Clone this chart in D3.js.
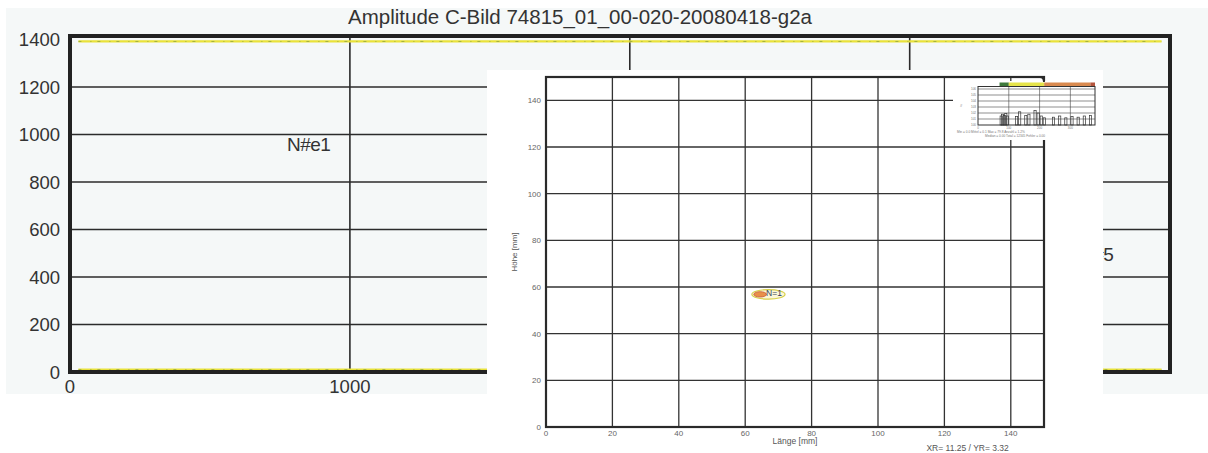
<!DOCTYPE html>
<html>
<head>
<meta charset="utf-8">
<script src="https://cdn.jsdelivr.net/npm/d3@7"></script>
<style>
  body { margin: 0; background: #fff; }
  svg { display: block; font-family: "Liberation Sans", Arial, sans-serif; }
</style>
</head>
<body>
<svg id="chart" width="1208" height="453"></svg>
<script>
// ---- outer C-scan (scanned page) ----
const outerTitle = 'Amplitude C-Bild 74815_01_00-020-20080418-g2a';
const outerXTicks = [0, 1000, 2000, 3000];
const outerYTicks = [0, 200, 400, 600, 800, 1000, 1200, 1400];
const outerXMax = 3930;
const outerYMax = 1415;
// edge echoes along top and bottom border
const edgeTopX = [30, 3900];
const edgeTopY = [1392, 1392];
const edgeBottomX = [30, 3900];
const edgeBottomY = [10, 10];
// indication labels (overprinted N#1 / Ne1 and N#5, mostly hidden)
const outerMarkLabels = ['N#e1', 'N#5'];
const outerMarkX = [775, 3608];
const outerMarkY = [955, 492];

// ---- inner C-scan (pasted printout) ----
const innerTicks = [0, 20, 40, 60, 80, 100, 120, 140];
const innerMax = 150;
const defectX = [62, 72];     // mm
const defectY = [54.8, 58.9]; // mm
const defectCoreX = [62.6, 66.4];
const defectCoreY = [55.7, 58.0];
const defectLabel = 'N=1';
const footnote = 'XR= 11.25 / YR= 3.32';

// ---- tiny histogram inset ----
const insetXTicks = [0, 100, 200, 300];
const insetYTicks = [0, 1, 2, 3, 4, 5, 6];
const insetBandFrom = [70, 100, 215, 365];
const insetBandTo = [100, 215, 365, 380];
const insetBandColor = ['#3f7a3c', '#e6e44a', '#d98a4f', '#b4553d'];
const insetBarX = [75, 80, 85, 90, 95, 125, 135, 155, 165, 185, 195, 205, 215, 245, 265, 285, 305, 325, 345, 365];
const insetBarH = [1.5, 1.8, 1.6, 1.9, 1.5, 1.4, 2.2, 1.6, 1.8, 2.4, 2.0, 1.5, 1.2, 1.3, 1.5, 1.2, 1.4, 1.3, 1.5, 1.6];

const svg = d3.select('#chart');

// scanned page background
svg.append('rect').attr('x', 6).attr('y', 8).attr('width', 1202).attr('height', 386).attr('fill', '#f5f8f8');

// ---------- outer chart ----------
var ox = d3.scaleLinear().domain([0, outerXMax]).range([70, 1170]);
var oy = d3.scaleLinear().domain([0, outerYMax]).range([372, 36]);

svg.append('text')
    .attr('x', 580).attr('y', 24)
    .attr('text-anchor', 'middle')
    .attr('font-size', 20.5)
    .attr('fill', '#333')
    .text(outerTitle);

const og = svg.append('g');
// grid
og.selectAll('.hg').data(outerYTicks.filter(d => d > 0 && d < 1400)).enter().append('line')
    .attr('x1', ox(0)).attr('x2', ox(outerXMax))
    .attr('y1', d => oy(d)).attr('y2', d => oy(d))
    .attr('stroke', '#2b2b2b').attr('stroke-width', 1.6);
og.selectAll('.vg').data(outerXTicks.filter(d => d > 0)).enter().append('line')
    .attr('x1', d => ox(d)).attr('x2', d => ox(d))
    .attr('y1', oy(0)).attr('y2', oy(outerYMax))
    .attr('stroke', '#2b2b2b').attr('stroke-width', 1.6);

// edge echoes
const edgeLine = d3.line().x(d => ox(d[0])).y(d => oy(d[1]));
[d3.zip(edgeTopX, edgeTopY), d3.zip(edgeBottomX, edgeBottomY)].forEach(pts => {
    og.append('path').attr('d', edgeLine(pts)).attr('fill', 'none')
        .attr('stroke', '#e9e23a').attr('stroke-width', 2.2);
    og.append('path').attr('d', edgeLine(pts)).attr('fill', 'none')
        .attr('stroke', '#6c8a3a').attr('stroke-width', 0.8)
        .attr('stroke-dasharray', '3 9 1 6').attr('opacity', 0.7);
});

// frame
og.append('rect')
    .attr('x', ox(0)).attr('y', oy(outerYMax))
    .attr('width', ox(outerXMax) - ox(0)).attr('height', oy(0) - oy(outerYMax))
    .attr('fill', 'none').attr('stroke', '#222').attr('stroke-width', 4);

// tick labels
og.selectAll('.yl').data(outerYTicks).enter().append('text')
    .attr('x', 60).attr('y', d => oy(d) + 6.5)
    .attr('text-anchor', 'end').attr('font-size', 18.5).attr('fill', '#333')
    .text(d => d);
og.selectAll('.xl').data(outerXTicks).enter().append('text')
    .attr('x', d => ox(d)).attr('y', 393)
    .attr('text-anchor', 'middle').attr('font-size', 18.5).attr('fill', '#333')
    .text(d => d);

// indication labels
og.selectAll('.ml').data(outerMarkLabels).enter().append('text')
    .attr('x', (d, i) => ox(outerMarkX[i])).attr('y', (d, i) => oy(outerMarkY[i]) + 6)
    .attr('font-size', 19).attr('fill', '#333').attr('letter-spacing', -0.5)
    .text(d => d);

// ---------- pasted printout ----------
svg.append('rect').attr('x', 487).attr('y', 70).attr('width', 616).attr('height', 383).attr('fill', '#fff');

var ix = d3.scaleLinear().domain([0, innerMax]).range([546, 1044]);
var iy = d3.scaleLinear().domain([0, innerMax]).range([427, 77]);
const ig = svg.append('g');

ig.selectAll('.ihg').data(innerTicks.filter(d => d > 0)).enter().append('line')
    .attr('x1', ix(0)).attr('x2', ix(innerMax))
    .attr('y1', d => iy(d)).attr('y2', d => iy(d))
    .attr('stroke', '#333').attr('stroke-width', 1.3);
ig.selectAll('.ivg').data(innerTicks.filter(d => d > 0)).enter().append('line')
    .attr('x1', d => ix(d)).attr('x2', d => ix(d))
    .attr('y1', iy(0)).attr('y2', iy(innerMax))
    .attr('stroke', '#333').attr('stroke-width', 1.3);
ig.append('rect')
    .attr('x', ix(0)).attr('y', iy(innerMax))
    .attr('width', ix(innerMax) - ix(0)).attr('height', iy(0) - iy(innerMax))
    .attr('fill', 'none').attr('stroke', '#2a2a2a').attr('stroke-width', 2.2);

ig.selectAll('.iyl').data(innerTicks).enter().append('text')
    .attr('x', 541).attr('y', d => iy(d) + 3)
    .attr('text-anchor', 'end').attr('font-size', 8).attr('fill', '#666')
    .text(d => d);
ig.selectAll('.ixl').data(innerTicks).enter().append('text')
    .attr('x', d => ix(d)).attr('y', 436)
    .attr('text-anchor', 'middle').attr('font-size', 8).attr('fill', '#666')
    .text(d => d);
ig.append('text')
    .attr('transform', 'translate(517,' + iy(75) + ') rotate(-90)')
    .attr('text-anchor', 'middle').attr('font-size', 8).attr('fill', '#555')
    .text('Höhe [mm]');
ig.append('text')
    .attr('x', ix(75)).attr('y', 444)
    .attr('text-anchor', 'middle').attr('font-size', 8.5).attr('fill', '#555')
    .text('Länge [mm]');
ig.append('text')
    .attr('x', ix(127)).attr('y', 451)
    .attr('text-anchor', 'middle').attr('font-size', 8.5).attr('fill', '#555')
    .text(footnote);

// defect indication
ig.append('ellipse')
    .attr('cx', ix((defectX[0] + defectX[1]) / 2)).attr('cy', iy((defectY[0] + defectY[1]) / 2))
    .attr('rx', (ix(defectX[1]) - ix(defectX[0])) / 2).attr('ry', (iy(defectY[0]) - iy(defectY[1])) / 2)
    .attr('fill', '#fbf6d8').attr('stroke', '#d7cf4a').attr('stroke-width', 1.2);
ig.append('ellipse')
    .attr('cx', ix((defectCoreX[0] + defectCoreX[1]) / 2)).attr('cy', iy((defectCoreY[0] + defectCoreY[1]) / 2))
    .attr('rx', (ix(defectCoreX[1]) - ix(defectCoreX[0])) / 2).attr('ry', (iy(defectCoreY[0]) - iy(defectCoreY[1])) / 2)
    .attr('fill', '#e8904a').attr('stroke', '#c65a3a').attr('stroke-width', 0.8);
ig.append('text')
    .attr('x', ix(66.3)).attr('y', iy(56.2))
    .attr('font-size', 8.5).attr('fill', '#34405a')
    .text(defectLabel);

// ---------- histogram inset ----------
svg.append('rect').attr('x', 953).attr('y', 81).attr('width', 147).attr('height', 59).attr('fill', '#fff');
// top frame hook of the inner chart
svg.append('path')
    .attr('d', 'M' + (ix(innerMax) - 4) + ',' + iy(innerMax) + ' Q' + ix(innerMax) + ',' + iy(innerMax) + ' ' + ix(innerMax) + ',' + (iy(innerMax) + 5))
    .attr('fill', 'none').attr('stroke', '#2a2a2a').attr('stroke-width', 2);

var hx = d3.scaleLinear().domain([0, 380]).range([978, 1095]);
var hy = d3.scaleLinear().domain([0, 6.5]).range([125, 86]);
const hg = svg.append('g');

hg.selectAll('.hb').data(insetBandFrom).enter().append('rect')
    .attr('x', (d, i) => hx(d)).attr('y', 82.5)
    .attr('width', (d, i) => hx(insetBandTo[i]) - hx(d)).attr('height', 4)
    .attr('fill', (d, i) => insetBandColor[i]);
hg.selectAll('.hhg').data(insetYTicks.filter(d => d > 0)).enter().append('line')
    .attr('x1', hx(0)).attr('x2', hx(380))
    .attr('y1', d => hy(d)).attr('y2', d => hy(d))
    .attr('stroke', '#444').attr('stroke-width', 0.6);
hg.selectAll('.hvg').data(insetXTicks.filter(d => d > 0)).enter().append('line')
    .attr('x1', d => hx(d)).attr('x2', d => hx(d))
    .attr('y1', hy(0)).attr('y2', 86.5)
    .attr('stroke', '#444').attr('stroke-width', 0.6);
hg.append('rect')
    .attr('x', hx(0)).attr('y', 86.5).attr('width', hx(380) - hx(0)).attr('height', hy(0) - 86.5)
    .attr('fill', 'none').attr('stroke', '#333').attr('stroke-width', 1);
hg.selectAll('.hbar').data(insetBarX).enter().append('rect')
    .attr('x', d => hx(d) - 1).attr('width', 2.2)
    .attr('y', (d, i) => hy(insetBarH[i])).attr('height', (d, i) => hy(0) - hy(insetBarH[i]))
    .attr('fill', 'none').attr('stroke', '#333').attr('stroke-width', 0.7);
hg.selectAll('.hyl').data(insetYTicks).enter().append('text')
    .attr('x', hx(0) - 2).attr('y', d => hy(d) + 1)
    .attr('text-anchor', 'end').attr('font-size', 3).attr('fill', '#777')
    .text(d => '10' + d);
hg.append('text').attr('x', 960).attr('y', 107).attr('font-size', 4).attr('fill', '#666').text('#');
hg.selectAll('.hxl').data(insetXTicks).enter().append('text')
    .attr('x', d => hx(d)).attr('y', 129)
    .attr('text-anchor', 'middle').attr('font-size', 3).attr('fill', '#777')
    .text(d => d);
hg.append('text').attr('x', 957).attr('y', 132.5).attr('font-size', 3.2).attr('fill', '#777')
    .text('Min = 0.0  Mittel = 0.1  Max = 79.8  Anzahl = 1.2%');
hg.append('text').attr('x', 985).attr('y', 136.5).attr('font-size', 3.2).attr('fill', '#777')
    .text('Median = 0.00  Total = 12345  Fehler = 0.00');
</script>
</body>
</html>
